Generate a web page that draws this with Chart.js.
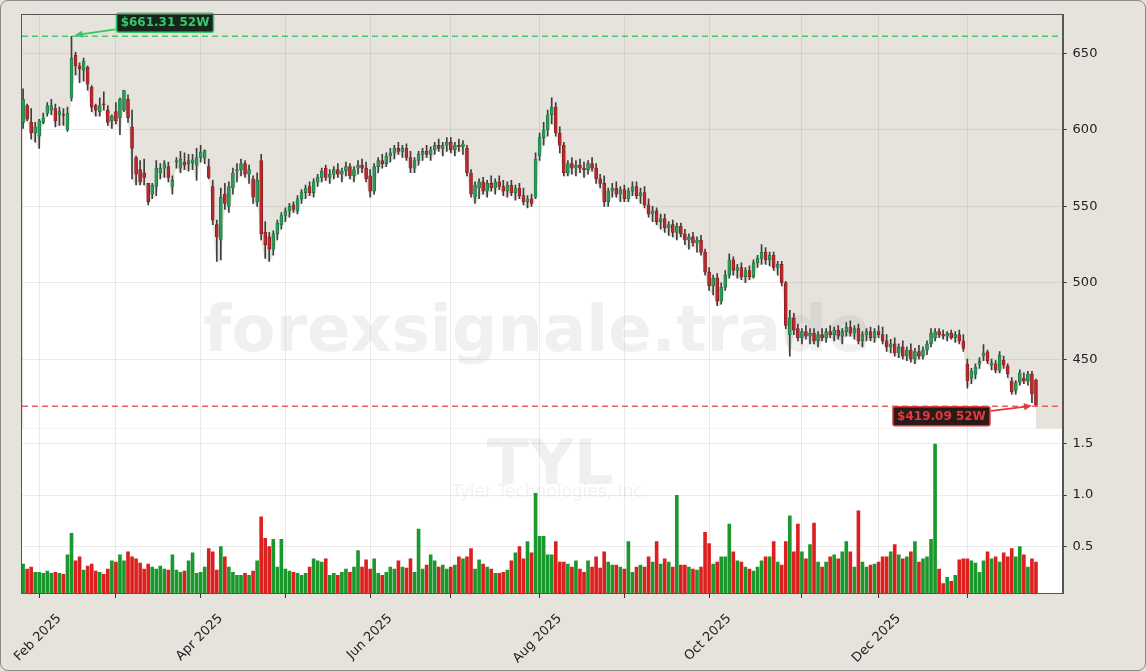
<!DOCTYPE html>
<html>
<head>
<meta charset="utf-8">
<script src="https://cdn.jsdelivr.net/npm/chart.js@4.4.1/dist/chart.umd.min.js"></script>
<style>
  html, body { margin: 0; padding: 0; background: #e6e3dd; }
  #wrap { width: 1146px; height: 671px; box-sizing: border-box; border: 1px solid #8a8a8a; border-radius: 8px; overflow: hidden; background: #e6e3dd; }
  canvas { display: block; }
</style>
</head>
<body>
<div id="wrap"><canvas id="chart" width="1144" height="669"></canvas></div>
<script>
// TYL daily candles, 28 Jan 2025 .. 28 Jan 2026 (trading-day index on x)
const opens = [
  605,616,605,598,596,605,611,613,614,610, 610,600,621,649,642,639,641,628,616,612,
  617,613,606,612,608,613,620,602,582,574, 572,565,558,563,572,575,576,563,579,575,
  579,578,578.5,577,582,581.5,576,563,538,528, 558,550,562,573,574,578,571,568,553,580,
  533,530,522,532,538,544,547,551,547,555, 559,563,559,566,569,575,569,571,574,571,
  573,576,570,575,577,575,570,560,576,580, 578,583,585,588,586,588,582,575,580,584,
  586,584,587,590,588,590,592,587,590,589, 588,572,556,562,566,560,565,562,566,563,
  560,564,559,562,557,553,555,556,583,595, 600,610,615,598,590,572,578,575,577,575,
  574,578,575,568,565,553,560,562,558,561, 555,560,563,557,559,551,545,547,540,542,
  536,538,533,537,532,528,530,526,528,520, 507,498,503,488,497,505,515,508,510,504,
  508,504,513,516,520,515,518,510,512,500, 466,477,470,464,468,465,467,462,466,464,
  468,466,469,465,468,471,467,470,462,466, 468,464,468,466,462,458,460,454,458,452,
  456,450,455,452,456,460,464,468,466,465, 467,464,466,462,446.7,437.6,440,446.7,451.9,454.8,
  446,447,442.6,449.3,445.4,435.7,429.6,435,437.6,435.7, 440.2,436.3
];
const highs = [
  627,617,614,605,607,611,618,620,617,615, 614,615,661.31,651,644,647,642,629,617,621,
  625,616,610,618,621,626,623,613,583,580, 581,565,565,580,578,580,579,570,582,586,
  585,584,584,588,590,587,581,567,541,562, 565,566,575,578,581,580,577,570,572,584,
  540,533,534,541,546,549,552,553,557,561, 564,566,568,571,575,577,574,576,578,575,
  579,578,576,580,581,579,574,578,582,584, 585,588,590,592,590,591,586,582,586,588,
  590,589,592,594,592,595,595,592,594,593, 590,574,566,568,569,567,570,568,570,567,
  566,567,564,565,562,557,558,585,598,605, 613,621,618,602,592,580,582,580,581,579,
  580,582,578,571,570,562,565,566,563,564, 562,566,566,562,563,555,550,549,545,545,
  540,541,539,539,535,532,533,530,531,522, 510,505,506,500,508,519,517,512,513,510,
  511,515,518,525,523,520,520,514,514,501, 482,480,473,470,472,470,470,468,470,470,
  472,471,472,470,474,475,472,473,468,470, 471,470,472,471,466,463,464,460,462,458,
  460,457,459,458,462,470,470,470,469,468, 469,468,469,466,450,444,447,451,459.6,456,
  450,449,455,452,447,438,436,443,441,442, 442,437
];
const lows = [
  601,606,594,592,588,604,609,610,602,603, 603,599,619,636,631,632,626,612,609,609,
  613,603,601,604,597,612,605,568,564,564, 564,551,555,557,568,569,566,558,575,572,
  574,573,574,567,579,578,568,538,514,515, 548,546,558,566,570,569,565,552,550,528,
  516,514,518,528,535,540,543,546,545,552, 555,557,556,563,566,567,565,568,569,566,
  570,568,566,571,572,566,556,558,572,575, 576,579,581,584,582,580,572,572,577,580,
  582,580,584,586,583,586,585,583,586,584, 570,556,552,555,558,556,560,558,561,557,
  556,557,554,555,551,549,550,555,580,590, 596,604,596,585,570,570,571,570,572,569,
  571,573,565,562,550,550,556,556,553,553, 553,557,555,552,549,543,540,538,535,533,
  531,530,528,530,525,522,524,520,518,505, 495,492,485,486,495,503,505,503,502,500,
  502,503,510,512,512,511,508,505,498,470, 452,466,462,460,463,460,460,458,462,461,
  464,462,463,460,465,465,463,460,458,462, 462,461,464,460,455,454,452,451,450,449,
  448,447,450,450,453,458,462,464,463,462, 463,461,460,455,431,434,437,444,449,447,
  443,441,441,444,438,427,427,433,434,433, 421.5,419.09
];
const closes = [
  620,607,598,602,606,608,616,616,606,612, 609.5,611,647,642,640,645,630,615,613,616,
  616.5,605,609,606,620,626,608,588,571,566, 569,553,564,575,575,578,569,567,580,581,
  577,580,580.5,582,585.5,586.5,569,541,530,556, 552,563,572,574,578,571,574,556,567,532,
  525,522,532,539,544,547,550,548,555,559, 562,559,566,569,573,569,571,574,571,573,
  576,570,574,577,575,568,560,576,580,578, 583,585,588,586,588,582,575,580,584,586,
  584,587,590,588,590,592,587,590,589,591, 572,558,564,566,560,565,562,566,563,560,
  564,559,562,557,553,555,552,581,595,600, 610,615,598,590,572,578,575,577,575,574,
  578,575,568,565,553,560,562,558,561,555, 560,563,557,559,551,545,547,540,542,536,
  538,533,537,532,528,530,526,528,520,507, 498,503,488,497,505,515,508,510,504,508,
  504,513,516,520,515,518,510,512,500,472, 477,469,464,468,465,467,462,466,464,468,
  466,469,465,468,471,467,470,462,466,468, 464,468,466,462,458,460,454,458,452,456,
  450,455,452,456,460,467,468,466,465,467, 464,466,462,457,435.7,442.2,445,448.7,453.9,448.7,
  447.5,443,452.6,446,440.4,428.7,434.6,441.1,435.7,440.2, 427.2,420
];
const volumes = [
  0.33,0.28,0.30,0.25,0.25,0.24,0.26,0.24,0.25,0.24, 0.23,0.42,0.63,0.36,0.40,0.27,0.31,0.33,0.26,0.25,
  0.23,0.28,0.36,0.35,0.42,0.36,0.45,0.40,0.38,0.34, 0.28,0.33,0.30,0.28,0.31,0.28,0.27,0.42,0.27,0.25,
  0.26,0.36,0.44,0.24,0.25,0.30,0.48,0.45,0.27,0.50, 0.40,0.30,0.25,0.22,0.22,0.24,0.22,0.26,0.36,0.79,
  0.58,0.50,0.57,0.30,0.57,0.28,0.26,0.25,0.24,0.22, 0.24,0.30,0.38,0.36,0.35,0.38,0.22,0.24,0.22,0.25,
  0.28,0.25,0.30,0.46,0.30,0.37,0.28,0.38,0.24,0.22, 0.25,0.30,0.28,0.36,0.30,0.29,0.38,0.25,0.67,0.28,
  0.32,0.42,0.36,0.30,0.32,0.28,0.30,0.32,0.40,0.38, 0.40,0.48,0.28,0.37,0.33,0.30,0.28,0.24,0.24,0.25,
  0.27,0.36,0.44,0.50,0.38,0.55,0.44,1.02,0.60,0.60, 0.42,0.42,0.55,0.35,0.35,0.33,0.30,0.36,0.28,0.25,
  0.36,0.30,0.40,0.29,0.45,0.35,0.32,0.32,0.30,0.28, 0.55,0.25,0.30,0.32,0.30,0.40,0.35,0.55,0.33,0.38,
  0.35,0.30,1.00,0.32,0.32,0.30,0.28,0.27,0.30,0.64, 0.53,0.33,0.35,0.40,0.40,0.72,0.45,0.36,0.35,0.30,
  0.28,0.26,0.30,0.36,0.40,0.40,0.55,0.35,0.32,0.55, 0.80,0.45,0.72,0.45,0.38,0.52,0.73,0.35,0.30,0.35,
  0.40,0.42,0.38,0.45,0.55,0.45,0.30,0.85,0.35,0.30, 0.32,0.33,0.35,0.40,0.40,0.45,0.52,0.42,0.38,0.40,
  0.45,0.55,0.35,0.38,0.40,0.57,1.50,0.28,0.14,0.20, 0.16,0.22,0.37,0.38,0.38,0.36,0.34,0.25,0.36,0.45,
  0.38,0.40,0.35,0.44,0.40,0.48,0.40,0.50,0.42,0.30, 0.38,0.35
];
const tickIndex = [4, 23, 44, 65, 86, 106, 128, 149, 170, 193, 212, 234];
const tickLabels = ['Feb 2025', '', 'Apr 2025', '', 'Jun 2025', '', 'Aug 2025', '', 'Oct 2025', '', 'Dec 2025', ''];
const high52 = 661.31, high52Idx = 12;
const low52 = 419.09, low52Idx = 251;

const up = closes.map((c, i) => c >= opens[i]);

Chart.defaults.font.family = "'DejaVu Sans', sans-serif";
Chart.defaults.font.size = 13;
Chart.defaults.color = '#222';

// panel backgrounds, frame, watermark and the 52W markers
const decor = {
  id: 'decor',
  beforeDraw(chart) {
    const { ctx, chartArea } = chart;
    const yv = chart.scales.yv;
    ctx.save();
    ctx.fillStyle = '#ffffff';
    ctx.fillRect(chartArea.left, yv.top, chartArea.right - chartArea.left, yv.bottom - yv.top);
    ctx.restore();
  },
  beforeDatasetsDraw(chart) {
    const { ctx } = chart;
    ctx.save();
    ctx.textAlign = 'center';
    ctx.textBaseline = 'alphabetic';
    ctx.fillStyle = 'rgba(140,140,140,0.13)';
    ctx.font = "bold 64px 'DejaVu Sans'";
    ctx.fillText('forexsignale.trade', 536, 350);
    ctx.font = "bold 62px 'DejaVu Sans'";
    ctx.fillText('TYL', 549, 483);
    ctx.fillStyle = 'rgba(140,140,140,0.11)';
    ctx.font = "17px 'DejaVu Sans'";
    ctx.fillText('Tyler Technologies, Inc.', 549, 496);
    ctx.restore();
  },
  afterDatasetsDraw(chart) {
    const { ctx, chartArea } = chart;
    const xs = chart.scales.x, ys = chart.scales.y;
    const yH = ys.getPixelForValue(high52), yL = ys.getPixelForValue(low52);
    const xH = xs.getPixelForValue(high52Idx), xL = xs.getPixelForValue(low52Idx);
    ctx.save();
    ctx.lineWidth = 1.5;
    ctx.setLineDash([6, 4]);
    ctx.strokeStyle = 'rgba(52,199,100,0.9)';
    ctx.beginPath(); ctx.moveTo(chartArea.left, yH); ctx.lineTo(chartArea.right, yH); ctx.stroke();
    ctx.strokeStyle = 'rgba(226,80,80,0.9)';
    ctx.beginPath(); ctx.moveTo(chartArea.left, yL); ctx.lineTo(chartArea.right, yL); ctx.stroke();
    ctx.setLineDash([]);

    function tag(text, x, y, w, h, fg, bg) {
      ctx.fillStyle = bg;
      ctx.strokeStyle = fg;
      ctx.lineWidth = 1.5;
      ctx.beginPath();
      ctx.roundRect(x, y, w, h, 2);
      ctx.fill(); ctx.stroke();
      ctx.fillStyle = fg;
      ctx.font = "bold 12px 'DejaVu Sans'";
      ctx.textAlign = 'center';
      ctx.textBaseline = 'middle';
      ctx.fillText(text, x + w / 2, y + h / 2 + 0.5);
    }
    function arrow(x1, y1, x2, y2, color) {
      ctx.strokeStyle = color; ctx.fillStyle = color; ctx.lineWidth = 1.8;
      const a = Math.atan2(y2 - y1, x2 - x1);
      ctx.beginPath(); ctx.moveTo(x1, y1); ctx.lineTo(x2 - 6 * Math.cos(a), y2 - 6 * Math.sin(a)); ctx.stroke();
      ctx.beginPath();
      ctx.moveTo(x2, y2);
      ctx.lineTo(x2 - 8 * Math.cos(a) + 3.5 * Math.sin(a), y2 - 8 * Math.sin(a) - 3.5 * Math.cos(a));
      ctx.lineTo(x2 - 8 * Math.cos(a) - 3.5 * Math.sin(a), y2 - 8 * Math.sin(a) + 3.5 * Math.cos(a));
      ctx.closePath(); ctx.fill();
    }
    const gBox = { x: xH + 45, y: yH - 23, w: 97, h: 19 };
    arrow(gBox.x - 1, yH - 7, xH + 3, yH - 1, '#34c764');
    tag('$661.31 52W', gBox.x, gBox.y, gBox.w, gBox.h, '#36c96b', '#17261c');
    const rBox = { x: xL - 143, y: yL + 0.5, w: 97, h: 19 };
    arrow(rBox.x + rBox.w + 1, yL + 4.5, xL - 4, yL - 0.5, '#e23b3b');
    tag('$419.09 52W', rBox.x, rBox.y, rBox.w, rBox.h, '#e23a3a', '#2c1a1a');
    ctx.restore();
  },
  afterDraw(chart) {
    const { ctx, chartArea } = chart;
    ctx.save();
    ctx.strokeStyle = '#555';
    ctx.lineWidth = 1;
    ctx.strokeRect(Math.round(chartArea.left) - 0.5, Math.round(chartArea.top) - 0.5,
      Math.round(chartArea.right - chartArea.left) + 1, Math.round(chartArea.bottom - chartArea.top) + 1);
    ctx.restore();
  }
};

new Chart(document.getElementById('chart'), {
  type: 'bar',
  data: {
    datasets: [
      {
        type: 'line',
        data: lows.map((v, i) => ({ x: i, y: v })),
        yAxisID: 'y',
        borderWidth: 0,
        pointRadius: 0,
        tension: 0.4,
        fill: 'start',
        backgroundColor: '#ffffff',
        order: 5
      },
      {
        data: lows.map((v, i) => ({ x: i, y: [v, highs[i]] })),
        yAxisID: 'y',
        backgroundColor: '#3d3d3d',
        barThickness: 1,
        grouped: false,
        order: 2
      },
      {
        data: opens.map((v, i) => ({ x: i, y: [v, closes[i]] })),
        yAxisID: 'y',
        backgroundColor: up.map(u => u ? '#2a9a57' : '#b8282c'),
        borderColor: up.map(u => u ? '#1c6b3c' : '#7d1b1e'),
        borderWidth: 0.6,
        borderSkipped: false,
        barThickness: 3,
        minBarLength: 1,
        grouped: false,
        order: 1
      },
      {
        data: volumes.map((v, i) => ({ x: i, y: v })),
        yAxisID: 'yv',
        backgroundColor: up.map(u => u ? '#1b982b' : '#dc1f1f'),
        barPercentage: 0.9,
        categoryPercentage: 1,
        grouped: false,
        order: 3
      }
    ]
  },
  options: {
    responsive: false,
    animation: false,
    devicePixelRatio: 1,
    layout: { padding: { left: 21, top: 11, right: 0, bottom: 0 } },
    plugins: {
      legend: { display: false },
      tooltip: { enabled: false },
      filler: { drawTime: 'beforeDraw' }
    },
    scales: {
      x: {
        type: 'linear',
        min: -0.27,
        max: 257.6,
        offset: false,
        afterBuildTicks: s => { s.ticks = tickIndex.map(v => ({ value: v })); },
        afterFit: s => { s.height = 77; s.paddingLeft = 0; s.paddingRight = 0; },
        ticks: {
          autoSkip: false,
          maxRotation: 45,
          minRotation: 45,
          labelOffset: 20,
          padding: 13,
          callback: (v, i) => tickLabels[i]
        },
        grid: { offset: false, color: 'rgba(0,0,0,0.08)', tickColor: '#333', tickLength: 5 },
        border: { color: '#555' }
      },
      y: {
        position: 'right',
        stack: 'panels',
        stackWeight: 416,
        min: 404.4,
        max: 675.4,
        afterFit: s => { s.width = 82.4; },
        ticks: { stepSize: 50, includeBounds: false, padding: 6 },
        grid: { color: 'rgba(0,0,0,0.075)', tickColor: '#333', tickLength: 4 },
        border: { color: '#555' }
      },
      yv: {
        position: 'right',
        stack: 'panels',
        stackWeight: 165,
        min: 0.044,
        max: 1.646,
        afterFit: s => { s.width = 82.4; },
        ticks: { stepSize: 0.5, includeBounds: false, padding: 6, callback: v => v.toFixed(1) },
        grid: { color: 'rgba(0,0,0,0.075)', tickColor: '#333', tickLength: 4 },
        border: { color: '#555' }
      }
    }
  },
  plugins: [decor]
});
</script>
</body>
</html>
